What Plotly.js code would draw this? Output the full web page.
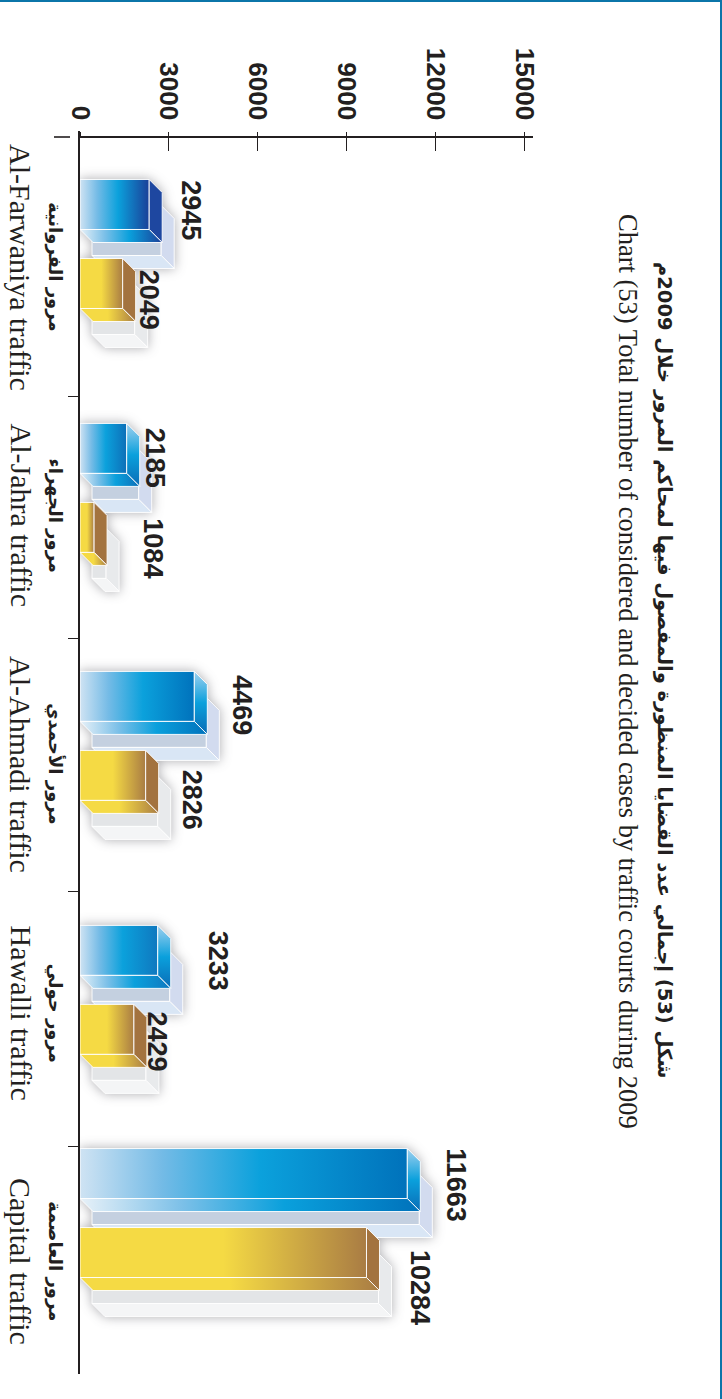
<!DOCTYPE html>
<html><head><meta charset="utf-8">
<script src="https://cdn.plot.ly/plotly-3.0.1.min.js"></script>
<style>
html,body{margin:0;padding:0;background:#fff}
#frame{position:absolute;left:0;top:0;width:722px;height:1399px;box-sizing:border-box;border-top:2.5px solid #0b75a9;border-right:2px solid #0b75a9;pointer-events:none}
#chart{position:absolute;left:0;top:0;width:722px;height:1399px}
.scatterlayer{filter:drop-shadow(0 0 6px rgba(60,60,70,.42))}
</style></head><body>
<div id="chart"></div><div id="frame"></div>
<script>
// ---- data ----
const categoriesEn = ['Al-Farwaniya traffic','Al-Jahra traffic','Al-Ahmadi traffic','Hawalli traffic','Capital traffic'];
const categoriesAr = ['مرور الفروانية','مرور الجهراء','مرور الأحمدي','مرور حولي','مرور العاصمة'];
const considered = [2945,2185,4469,3233,11663];
const decided = [2049,1084,2826,2429,10284];
const valueTicks = [0,3000,6000,9000,12000,15000];
const titleAr = 'شكل (53) إجمالي عدد القضايا المنظورة والمفصول فيها لمحاكم المرور خلال 2009م';
const titleEn = 'Chart (53) Total number of considered and decided cases by traffic courts during 2009';

// ---- layout helpers (positions in axis units) ----
const bandEdges = [0.523,1.493,2.515,3.541];
const groupPos = [-0.0926,0.889,1.887,2.909,3.807];
const L=80,R=533,T=131,B=1374, xMax=15300, bandPx=248.5;
const xUnit = xMax/(R-L), yUnit = 1/bandPx;
const dX = 13*xUnit, dY = 13*yUnit, halfH = 25*yUnit, off = 39.5*yUnit, inset = 18*xUnit;
const ghostX = 12*xUnit, ghostY = 26*yUnit;
const labelShiftBlue = [[23,6],[10,9],[29,9],[42,10],[31,12]];
const labelShiftAmber = [[8,16],[40,21],[28,24],[5,12],[36,35]];
const blueEnd = ['#1b3f98','#0d6fb8','#0072bc','#0f78bf','#0072bb'];
const blueSide = ['#1e47a0',null,null,null,null];

const traces=[];
function face(xs,ys,grad,solid){
  const t={type:'scatter',mode:'lines',x:xs.concat(xs[0]),y:ys.concat(ys[0]),fill:'toself',
    line:{color:'rgba(255,255,255,.92)',width:1},hoverinfo:'skip',showlegend:false};
  if(grad) t.fillgradient=grad; else t.fillcolor=solid;
  traces.push(t);
}
const hg=(stops)=>({type:'horizontal',colorscale:stops});
const vg=(stops)=>({type:'vertical',colorscale:stops});

function ghost(v,yc,pal){
  const xf=Math.max(v-inset,0)+ghostX, y0=yc-halfH+ghostY, y1=yc+halfH+ghostY, x0=ghostX;
  face([x0,xf,xf,x0],[y0,y0,y1,y1],null,pal.front);
  face([xf,xf+dX,xf+dX,xf],[y0,y0+dY,y1+dY,y1],null,pal.side);
  face([x0,xf,xf+dX,x0+dX],[y1,y1,y1+dY,y1+dY],null,pal.bottom);
}
function box(v,yc,frontStops,bottomStops,side){
  const xf=v-inset, y0=yc-halfH, y1=yc+halfH;
  face([0,xf,xf,0],[y0,y0,y1,y1],hg(frontStops));
  face([xf,xf+dX,xf+dX,xf],[y0,y0+dY,y1+dY,y1],side.grad,side.solid);
  face([0,xf,xf+dX,dX],[y1,y1,y1+dY,y1+dY],hg(bottomStops));
}
const bluePal={front:'#c4d0e0',side:'#d2dbef',bottom:'#d9e6f5'};
const greyPal={front:'#e3e5e7',side:'#e8eaec',bottom:'#f4f5f6'};
categoriesEn.forEach((c,i)=>{
  const yB=groupPos[i]-off, yA=groupPos[i]+off;
  ghost(considered[i],yB,bluePal);
  const end=blueEnd[i];
  const stops=[[0,'#cfe3f3'],[0.25,'#74bbe6'],[0.55,'#0ba1dc'],[1,end]];
  box(considered[i],yB,stops,[[0,'#e8f1f8'],[0.3,'#7cc0e8'],[0.6,'#0aa0dc'],[1,end]],
    blueSide[i]?{solid:blueSide[i]}:{grad:vg([[0,'#0a6cb6'],[0.5,'#0aa0dc'],[1,'#9fd0ef']])});
  ghost(decided[i],yA,greyPal);
  const a=[[0,'#f5da44'],[0.5,'#f5da44'],[1,'#a97c44']];
  box(decided[i],yA,a,a,{solid:'#a3733f'});
});
// value-carrying bars on the same axis scale as the drawn boxes
traces.push({type:'bar',orientation:'h',name:'considered',x:considered,y:groupPos.map(p=>p-off),width:2*halfH,
  marker:{color:'rgba(0,0,0,0)'},showlegend:false,hovertemplate:'%{x}<extra></extra>'});
traces.push({type:'bar',orientation:'h',name:'decided',x:decided,y:groupPos.map(p=>p+off),width:2*halfH,
  marker:{color:'rgba(0,0,0,0)'},showlegend:false,hovertemplate:'%{x}<extra></extra>'});
// second copy of the value axis, drawn only for the ticks above the line
traces.push({type:'scatter',x:[0],y:[0],xaxis:'x2',mode:'markers',marker:{opacity:0},hoverinfo:'skip',showlegend:false});

const valueFont={family:'"Liberation Sans",Arial,sans-serif',size:27,color:'#231f20',weight:700};
const ann=[];
categoriesEn.forEach((c,i)=>{
  ann.push({x:considered[i],y:groupPos[i]-off,xref:'x',yref:'y',text:'<b>'+considered[i]+'</b>',textangle:90,showarrow:false,
    xanchor:'center',yanchor:'middle',xshift:labelShiftBlue[i][0],yshift:-labelShiftBlue[i][1],font:valueFont});
  ann.push({x:decided[i],y:groupPos[i]+off,xref:'x',yref:'y',text:'<b>'+decided[i]+'</b>',textangle:90,showarrow:false,
    xanchor:'center',yanchor:'middle',xshift:labelShiftAmber[i][0],yshift:-labelShiftAmber[i][1],font:valueFont});
  ann.push({x:0,y:i,xref:'x',yref:'y',text:categoriesEn[i],textangle:90,showarrow:false,xanchor:'center',yanchor:'middle',xshift:-59,
    font:{family:'"Liberation Serif",serif',size:30,color:'#231f20'}});
  ann.push({x:0,y:i,xref:'x',yref:'y',text:'<b>'+categoriesAr[i]+'</b>',textangle:90,showarrow:false,xanchor:'center',yanchor:'middle',xshift:-25,
    font:{family:'"DejaVu Sans",sans-serif',size:18,color:'#231f20'}});
});
ann.push({xref:'paper',yref:'paper',x:(665-L)/(R-L),y:(B-670)/(B-T),text:'<b>'+titleAr+'</b>',textangle:90,showarrow:false,xanchor:'center',yanchor:'middle',
  font:{family:'"DejaVu Sans",sans-serif',size:19.5,color:'#231f20'}});
ann.push({xref:'paper',yref:'paper',x:(628-L)/(R-L),y:(B-671)/(B-T),text:titleEn,textangle:90,showarrow:false,xanchor:'center',yanchor:'middle',
  font:{family:'"Liberation Serif",serif',size:26.5,color:'#231f20'}});

const axisPos=(B-137)/(B-T);
const layout={
  width:722,height:1399,margin:{l:L,r:722-R,t:T,b:1399-B,pad:0},
  paper_bgcolor:'#fff',plot_bgcolor:'rgba(0,0,0,0)',showlegend:false,barmode:'overlay',
  xaxis:{range:[0,xMax],side:'top',anchor:'free',position:axisPos,tickvals:valueTicks,ticktext:valueTicks.map(String),
    tickangle:90,ticks:'inside',ticklen:13,tickwidth:1,tickcolor:'#231f20',showline:true,linecolor:'#231f20',linewidth:1.6,
    showgrid:false,zeroline:false,ticklabelstandoff:7,
    tickfont:{family:'"Liberation Sans",Arial,sans-serif',size:26,color:'#231f20',weight:700}},
  xaxis2:{range:[0,xMax],side:'top',anchor:'free',position:axisPos,overlaying:'x',tickvals:valueTicks,
    ticks:'outside',ticklen:5,tickwidth:1,tickcolor:'#231f20',showticklabels:false,showline:false,showgrid:false,zeroline:false},
  yaxis:{range:[(B-267)/bandPx,(T-267)/bandPx],showgrid:false,zeroline:false,showline:true,linecolor:'#231f20',linewidth:2.2,
    tickvals:[],showticklabels:false,ticks:'',
    minor:{tickvals:bandEdges,ticks:'outside',ticklen:10,tickwidth:1.4,tickcolor:'#231f20',showgrid:false}},
  shapes:[{type:'line',xref:'paper',yref:'paper',x0:(54-L)/(R-L),x1:(70-L)/(R-L),y0:axisPos,y1:axisPos,line:{color:'#231f20',width:1.6}}],
  annotations:ann
};
Plotly.newPlot('chart',traces,layout,{displayModeBar:false,responsive:false,staticPlot:false});
</script></body></html>
